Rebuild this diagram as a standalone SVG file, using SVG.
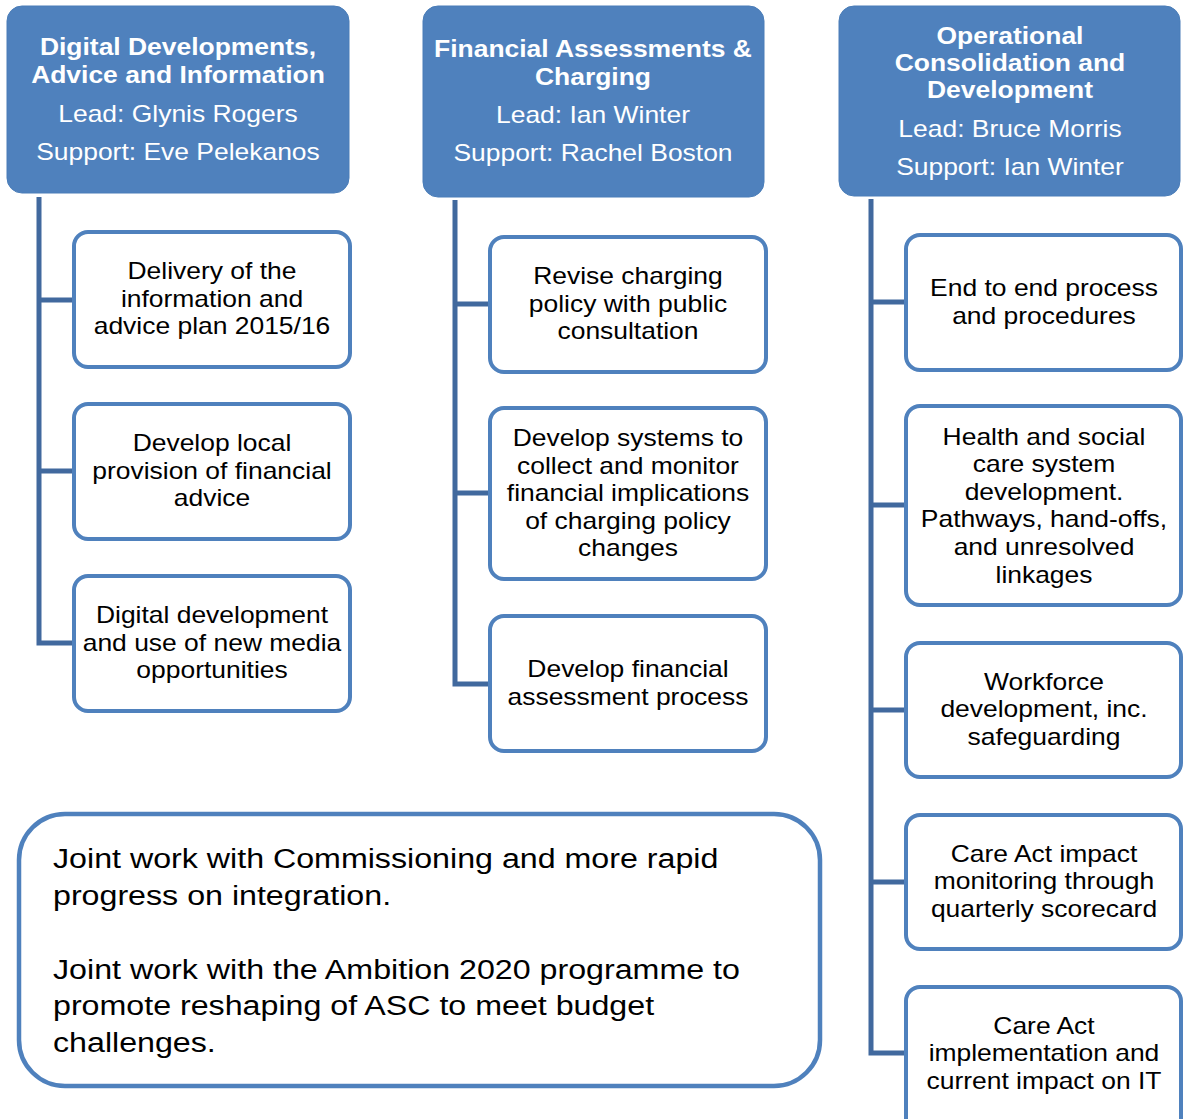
<svg xmlns="http://www.w3.org/2000/svg" width="1184" height="1119" viewBox="0 0 1184 1119">
<style>
.hdr{fill:#4F81BD;stroke:#4A7DB8;stroke-width:1}
.box{fill:#FFFFFF;stroke:#4F81BD;stroke-width:4}
.ht{font-family:"Liberation Sans",Arial,sans-serif;font-size:23px;font-weight:bold;fill:#FFFFFF;text-anchor:middle}
.hs{font-family:"Liberation Sans",Arial,sans-serif;font-size:23px;fill:#FFFFFF;text-anchor:middle}
.bt{font-family:"Liberation Sans",Arial,sans-serif;font-size:23px;fill:#000000;text-anchor:middle}
.nt{font-family:"Liberation Sans",Arial,sans-serif;font-size:28px;fill:#000000}
.con{fill:none;stroke:#41699E;stroke-width:5;stroke-linejoin:miter;stroke-linecap:butt}
</style>
<rect width="1184" height="1119" fill="#FFFFFF"/>
<g id="connectors">
<path class="con" d="M39,197 V643 H74 M39,300 H74 M39,471 H74"/>
<path class="con" d="M455,200 V684 H490 M455,304 H490 M455,493 H490"/>
<path class="con" d="M871,199 V1053 H906 M871,302 H906 M871,505 H906 M871,710 H906 M871,882 H906"/>
</g>
<g id="h1">
<rect class="hdr" x="7" y="6" width="342" height="187" rx="15"/>
<g transform="scale(1.15,1)">
<text class="ht" x="154.78" y="55">Digital Developments,</text>
<text class="ht" x="154.78" y="83">Advice and Information</text>
<text class="hs" x="154.78" y="122">Lead: Glynis Rogers</text>
<text class="hs" x="154.78" y="160">Support: Eve Pelekanos</text>
</g>
</g>
<g id="h2">
<rect class="hdr" x="423" y="6" width="341" height="191" rx="15"/>
<g transform="scale(1.15,1)">
<text class="ht" x="515.65" y="57">Financial Assessments &amp;</text>
<text class="ht" x="515.65" y="85">Charging</text>
<text class="hs" x="515.65" y="123">Lead: Ian Winter</text>
<text class="hs" x="515.65" y="161">Support: Rachel Boston</text>
</g>
</g>
<g id="h3">
<rect class="hdr" x="839" y="6" width="341" height="190" rx="15"/>
<g transform="scale(1.15,1)">
<text class="ht" x="878.26" y="44">Operational</text>
<text class="ht" x="878.26" y="71">Consolidation and</text>
<text class="ht" x="878.26" y="98">Development</text>
<text class="hs" x="878.26" y="137">Lead: Bruce Morris</text>
<text class="hs" x="878.26" y="175">Support: Ian Winter</text>
</g>
</g>
<g id="l1">
<rect class="box" x="74" y="232" width="276" height="135" rx="14"/>
<g transform="scale(1.15,1)">
<text class="bt" x="184.35" y="279">Delivery of the</text>
<text class="bt" x="184.35" y="307">information and</text>
<text class="bt" x="184.35" y="334">advice plan 2015/16</text>
</g>
</g>
<g id="l2">
<rect class="box" x="74" y="404" width="276" height="135" rx="14"/>
<g transform="scale(1.15,1)">
<text class="bt" x="184.35" y="451">Develop local</text>
<text class="bt" x="184.35" y="479">provision of financial</text>
<text class="bt" x="184.35" y="506">advice</text>
</g>
</g>
<g id="l3">
<rect class="box" x="74" y="576" width="276" height="135" rx="14"/>
<g transform="scale(1.15,1)">
<text class="bt" x="184.35" y="623">Digital development</text>
<text class="bt" x="184.35" y="651">and use of new media</text>
<text class="bt" x="184.35" y="678">opportunities</text>
</g>
</g>
<g id="m1">
<rect class="box" x="490" y="237" width="276" height="135" rx="14"/>
<g transform="scale(1.15,1)">
<text class="bt" x="546.09" y="284">Revise charging</text>
<text class="bt" x="546.09" y="312">policy with public</text>
<text class="bt" x="546.09" y="339">consultation</text>
</g>
</g>
<g id="m2">
<rect class="box" x="490" y="408" width="276" height="171" rx="14"/>
<g transform="scale(1.15,1)">
<text class="bt" x="546.09" y="446">Develop systems to</text>
<text class="bt" x="546.09" y="474">collect and monitor</text>
<text class="bt" x="546.09" y="501">financial implications</text>
<text class="bt" x="546.09" y="529">of charging policy</text>
<text class="bt" x="546.09" y="556">changes</text>
</g>
</g>
<g id="m3">
<rect class="box" x="490" y="616" width="276" height="135" rx="14"/>
<g transform="scale(1.15,1)">
<text class="bt" x="546.09" y="677">Develop financial</text>
<text class="bt" x="546.09" y="705">assessment process</text>
</g>
</g>
<g id="r1">
<rect class="box" x="906" y="235" width="275" height="135" rx="14"/>
<g transform="scale(1.15,1)">
<text class="bt" x="907.83" y="296">End to end process</text>
<text class="bt" x="907.83" y="324">and procedures</text>
</g>
</g>
<g id="r2">
<rect class="box" x="906" y="406" width="275" height="199" rx="14"/>
<g transform="scale(1.15,1)">
<text class="bt" x="907.83" y="445">Health and social</text>
<text class="bt" x="907.83" y="472">care system</text>
<text class="bt" x="907.83" y="500">development.</text>
<text class="bt" x="907.83" y="527">Pathways, hand-offs,</text>
<text class="bt" x="907.83" y="555">and unresolved</text>
<text class="bt" x="907.83" y="583">linkages</text>
</g>
</g>
<g id="r3">
<rect class="box" x="906" y="643" width="275" height="134" rx="14"/>
<g transform="scale(1.15,1)">
<text class="bt" x="907.83" y="690">Workforce</text>
<text class="bt" x="907.83" y="717">development, inc.</text>
<text class="bt" x="907.83" y="745">safeguarding</text>
</g>
</g>
<g id="r4">
<rect class="box" x="906" y="815" width="275" height="134" rx="14"/>
<g transform="scale(1.15,1)">
<text class="bt" x="907.83" y="862">Care Act impact</text>
<text class="bt" x="907.83" y="889">monitoring through</text>
<text class="bt" x="907.83" y="917">quarterly scorecard</text>
</g>
</g>
<g id="r5">
<rect class="box" x="906" y="987" width="275" height="160" rx="14"/>
<g transform="scale(1.15,1)">
<text class="bt" x="907.83" y="1034">Care Act</text>
<text class="bt" x="907.83" y="1061">implementation and</text>
<text class="bt" x="907.83" y="1089">current impact on IT</text>
</g>
</g>
<g id="note">
<rect x="19" y="814" width="801" height="272" rx="46" fill="#FFFFFF" stroke="#4F81BD" stroke-width="4.5"/>
<g transform="scale(1.15,1)">
<text class="nt" x="46.09" y="868">Joint work with Commissioning and more rapid</text>
<text class="nt" x="46.09" y="905">progress on integration.</text>
<text class="nt" x="46.09" y="979">Joint work with the Ambition 2020 programme to</text>
<text class="nt" x="46.09" y="1015">promote reshaping of ASC to meet budget</text>
<text class="nt" x="46.09" y="1052">challenges.</text>
</g>
</g>
</svg>
